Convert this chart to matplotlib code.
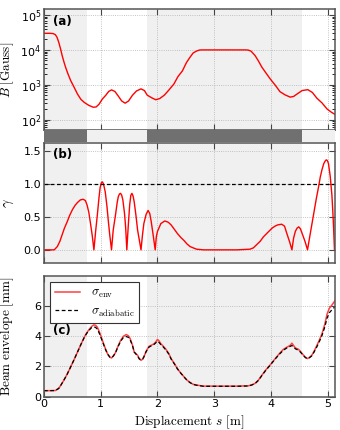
import matplotlib
matplotlib.use("Agg")
import matplotlib.pyplot as plt
from matplotlib.ticker import LogLocator, NullFormatter

plt.rcParams['mathtext.fontset'] = 'cm'
plt.rcParams['font.size'] = 8

# shaded (magnet) regions along s, in metres
regions = [(0.0, 0.76), (1.81, 4.545)]
s_max = 5.13

# (a) magnetic field B [Gauss]
s_B = [0.0, 0.10, 0.16, 0.20, 0.23, 0.26, 0.29, 0.32, 0.35, 0.38, 0.42, 0.47, 0.53,
       0.59, 0.65, 0.71, 0.79, 0.87, 0.92, 0.97, 1.03, 1.09, 1.14, 1.19, 1.25,
       1.31, 1.37, 1.43, 1.49, 1.56, 1.63, 1.71, 1.77, 1.82, 1.90, 1.97, 2.04,
       2.12, 2.20, 2.29, 2.36, 2.44, 2.51, 2.575, 2.63, 2.69, 2.74, 2.78, 3.00,
       3.30, 3.55, 3.60, 3.65, 3.72, 3.78, 3.84, 3.91, 3.99, 4.08, 4.16, 4.25,
       4.34, 4.40, 4.46, 4.55, 4.65, 4.73, 4.81, 4.90, 4.99, 5.07, 5.13]
B = [3.0e4, 3.0e4, 2.95e4, 2.75e4, 2.3e4, 1.66e4, 1.1e4, 6.9e3, 4.6e3, 3.2e3,
     2.1e3, 1.32e3, 850, 540, 380, 310, 255, 225, 230, 275, 390, 500, 640,
     710, 640, 470, 340, 295, 340, 500, 660, 760, 680, 500, 420, 370, 400,
     500, 700, 1050, 1700, 2500, 4300, 6200, 8200, 9300, 9900, 1.0e4, 1.0e4,
     1.0e4, 1.0e4, 9.9e3, 9.2e3, 6.9e3, 4.8e3, 3.2e3, 2.2e3, 1.45e3, 950,
     630, 510, 440, 460, 540, 680, 720, 600, 410, 300, 200, 160, 140]

# (b) adiabaticity parameter gamma
s_g = [0.0, 0.18, 0.235, 0.28, 0.32, 0.36, 0.41, 0.45, 0.50, 0.55, 0.59, 0.64,
       0.69, 0.73, 0.76, 0.79, 0.82, 0.85, 0.88, 0.91, 0.94, 0.97, 0.99, 1.01,
       1.03, 1.05, 1.08, 1.11, 1.135, 1.16, 1.19, 1.22, 1.26, 1.29, 1.31, 1.33,
       1.35, 1.37, 1.39, 1.42, 1.44, 1.46, 1.475, 1.49, 1.51, 1.53, 1.55, 1.57,
       1.59, 1.62, 1.65, 1.68, 1.71, 1.735, 1.76, 1.80, 1.835, 1.865, 1.89,
       1.925, 1.96, 1.98, 2.00, 2.06, 2.13, 2.19, 2.24, 2.30, 2.35, 2.41, 2.47,
       2.52, 2.575, 2.63, 2.69, 2.81, 3.40, 3.63, 3.69, 3.75, 3.81, 3.87, 3.95,
       4.02, 4.07, 4.12, 4.19, 4.24, 4.28, 4.33, 4.37, 4.40, 4.43, 4.46, 4.49,
       4.52, 4.55, 4.60, 4.645, 4.68, 4.72, 4.76, 4.80, 4.84, 4.87, 4.90, 4.93,
       4.955, 4.975, 4.995, 5.015, 5.045, 5.075, 5.09, 5.105, 5.12]
gamma = [0.0, 0.0, 0.05, 0.13, 0.23, 0.33, 0.43, 0.52, 0.61, 0.68, 0.72, 0.76,
         0.77, 0.75, 0.68, 0.57, 0.40, 0.22, 0.0, 0.28, 0.53, 0.80, 0.95, 1.02,
         1.035, 1.0, 0.88, 0.66, 0.43, 0.22, 0.0, 0.30, 0.53, 0.72, 0.81, 0.85,
         0.86, 0.83, 0.76, 0.55, 0.33, 0.0, 0.22, 0.43, 0.68, 0.83, 0.86, 0.82,
         0.73, 0.53, 0.30, 0.15, 0.0, 0.22, 0.40, 0.54, 0.60, 0.55, 0.43, 0.22,
         0.0, 0.20, 0.28, 0.40, 0.44, 0.42, 0.38, 0.31, 0.25, 0.19, 0.14, 0.09,
         0.05, 0.03, 0.01, 0.0, 0.0, 0.01, 0.03, 0.08, 0.13, 0.20, 0.27, 0.33,
         0.36, 0.38, 0.39, 0.36, 0.25, 0.12, 0.0, 0.18, 0.28, 0.33, 0.35, 0.32,
         0.25, 0.13, 0.0, 0.18, 0.38, 0.58, 0.78, 0.96, 1.11, 1.22, 1.31, 1.35,
         1.37, 1.36, 1.31, 1.12, 0.83, 0.60, 0.33, 0.0]

# (c) beam envelope [mm]: simulated and adiabatic prediction
s_c = [0.0, 0.10, 0.20, 0.26, 0.30, 0.35, 0.41, 0.47, 0.53, 0.59, 0.65, 0.71,
       0.75, 0.79, 0.84, 0.88, 0.91, 0.94, 0.98, 1.03, 1.08, 1.12, 1.16, 1.19,
       1.22, 1.26, 1.30, 1.35, 1.40, 1.45, 1.49, 1.52, 1.56, 1.59, 1.62, 1.65,
       1.68, 1.71, 1.74, 1.76, 1.80, 1.85, 1.90, 1.94, 1.97, 2.00, 2.03, 2.06,
       2.10, 2.15, 2.20, 2.24, 2.30, 2.35, 2.41, 2.47, 2.52, 2.575, 2.63, 2.69,
       2.81, 3.40, 3.60, 3.66, 3.72, 3.78, 3.84, 3.91, 3.99, 4.05, 4.10, 4.16,
       4.22, 4.27, 4.31, 4.34, 4.37, 4.40, 4.43, 4.48, 4.52, 4.55, 4.575, 4.61,
       4.645, 4.68, 4.72, 4.76, 4.81, 4.86, 4.90, 4.95, 4.99, 5.03, 5.075, 5.13]
env = [0.40, 0.40, 0.41, 0.55, 0.78, 1.09, 1.50, 1.97, 2.45, 2.95, 3.45, 3.94,
       4.20, 4.42, 4.65, 4.75, 4.72, 4.60, 4.25, 3.72, 3.20, 2.84, 2.62, 2.56,
       2.68, 2.91, 3.30, 3.72, 4.00, 4.11, 4.02, 3.83, 3.40, 2.95, 2.85, 2.74,
       2.50, 2.41, 2.48, 2.63, 3.00, 3.33, 3.42, 3.50, 3.62, 3.79, 3.68, 3.50,
       3.35, 3.13, 2.85, 2.52, 2.18, 1.86, 1.57, 1.31, 1.10, 0.94, 0.82, 0.77,
       0.70, 0.70, 0.72, 0.78, 0.88, 1.10, 1.42, 1.77, 2.12, 2.40, 2.63, 2.90,
       3.13, 3.25, 3.33, 3.40, 3.54, 3.38, 3.22, 3.15, 3.00, 2.85, 2.74, 2.60,
       2.52, 2.60, 2.74, 3.00, 3.39, 3.80, 4.16, 4.80, 5.47, 5.85, 6.06, 6.35]
adiab = [0.40, 0.40, 0.41, 0.55, 0.78, 1.09, 1.50, 1.97, 2.45, 2.95, 3.45, 3.92,
         4.17, 4.38, 4.57, 4.62, 4.58, 4.47, 4.15, 3.65, 3.16, 2.82, 2.62, 2.58,
         2.68, 2.90, 3.27, 3.66, 3.92, 3.98, 3.92, 3.75, 3.38, 2.96, 2.82, 2.70,
         2.50, 2.44, 2.50, 2.63, 2.98, 3.28, 3.38, 3.46, 3.56, 3.66, 3.58, 3.44,
         3.30, 3.08, 2.82, 2.50, 2.16, 1.85, 1.56, 1.30, 1.09, 0.93, 0.81, 0.76,
         0.69, 0.69, 0.71, 0.77, 0.87, 1.08, 1.40, 1.75, 2.10, 2.38, 2.60, 2.85,
         3.07, 3.20, 3.28, 3.33, 3.38, 3.30, 3.17, 3.08, 2.95, 2.82, 2.71, 2.58,
         2.52, 2.58, 2.70, 2.95, 3.30, 3.70, 4.05, 4.62, 5.20, 5.55, 5.75, 5.95]

shade = '#f0f0f0'
grid_kw = dict(color='#b0b0b0', linestyle=':', linewidth=0.6)
left, width = 0.1294, 0.856
lab_fs = 9.5

fig = plt.figure(figsize=(3.4, 4.3), dpi=100)
ax_a = fig.add_axes([left, 0.6977, width, 0.2814])
ax_s = fig.add_axes([left, 0.6698, width, 0.0279])
ax_b = fig.add_axes([left, 0.3884, width, 0.2796])
ax_c = fig.add_axes([left, 0.0774, width, 0.2814])

# strip showing where magnets sit
ax_s.axvspan(0, s_max, color=shade, lw=0)
for r in regions:
    ax_s.axvspan(r[0], r[1], color='#707070', lw=0)
ax_s.set_xlim(0, s_max)
ax_s.axis('off')

for ax in (ax_a, ax_b, ax_c):
    for r in regions:
        ax.axvspan(r[0], r[1], color=shade, lw=0, zorder=0)
    ax.set_xlim(0, s_max)
    ax.set_xticks([0, 1, 2, 3, 4, 5])
    ax.grid(True, **grid_kw)
    ax.set_axisbelow(True)
    ax.tick_params(direction='in', top=True, right=True, labelsize=8,
                   length=4, color='#444444', pad=2)
    for sp in ax.spines.values():
        sp.set_color('#555555')
        sp.set_linewidth(1.1)

ax_a.plot(s_B, B, color='red', lw=1.0)
ax_a.set_yscale('log')
ax_a.set_ylim(50, 1.5e5)
ax_a.yaxis.set_major_locator(LogLocator(base=10, numticks=10))
ax_a.yaxis.set_minor_locator(LogLocator(base=10, subs=range(2, 10), numticks=10))
ax_a.yaxis.set_minor_formatter(NullFormatter())
ax_a.tick_params(which='minor', direction='in', right=True, length=2)
ax_a.set_xticklabels([])
ax_a.set_ylabel(r'$B\ \mathrm{[Gauss]}$', fontsize=lab_fs)
ax_a.text(0.03, 0.87, '(a)', transform=ax_a.transAxes, fontsize=8.5,
          fontweight='bold')

ax_b.plot(s_g, gamma, color='red', lw=1.0)
ax_b.axhline(1.0, color='black', ls=(0, (3, 2)), lw=0.9)
ax_b.set_ylim(-0.2, 1.63)
ax_b.set_yticks([0.0, 0.5, 1.0, 1.5])
ax_b.set_xticklabels([])
ax_b.set_ylabel(r'$\gamma$', fontsize=lab_fs + 1)
ax_b.text(0.03, 0.87, '(b)', transform=ax_b.transAxes, fontsize=8.5,
          fontweight='bold')

ax_c.plot(s_c, env, color='#ff4040', lw=1.1, label=r'$\sigma_{\rm env}$')
ax_c.plot(s_c, adiab, color='black', ls=(0, (3, 2)), lw=0.9,
          label=r'$\sigma_{\rm adiabatic}$')
ax_c.set_ylim(0, 8)
ax_c.set_yticks([0, 2, 4, 6])
ax_c.set_ylabel(r'$\mathrm{Beam\ envelope\ [mm]}$', fontsize=lab_fs)
ax_c.set_xlabel(r'$\mathrm{Displacement}\ s\ \mathrm{[m]}$', fontsize=lab_fs,
                labelpad=3)
ax_c.text(0.03, 0.52, '(c)', transform=ax_c.transAxes, fontsize=8.5,
          fontweight='bold')
leg = ax_c.legend(loc='upper left', fontsize=9, fancybox=False,
                  framealpha=1, edgecolor='#333333', handlelength=2.0,
                  borderaxespad=0.5, labelspacing=0.35, borderpad=0.35,
                  handletextpad=0.9)
leg.get_frame().set_linewidth(0.8)

for ax in (ax_a, ax_b, ax_c):
    ax.yaxis.set_label_coords(-0.095, 0.5)

fig.savefig('out.png', dpi=100)
